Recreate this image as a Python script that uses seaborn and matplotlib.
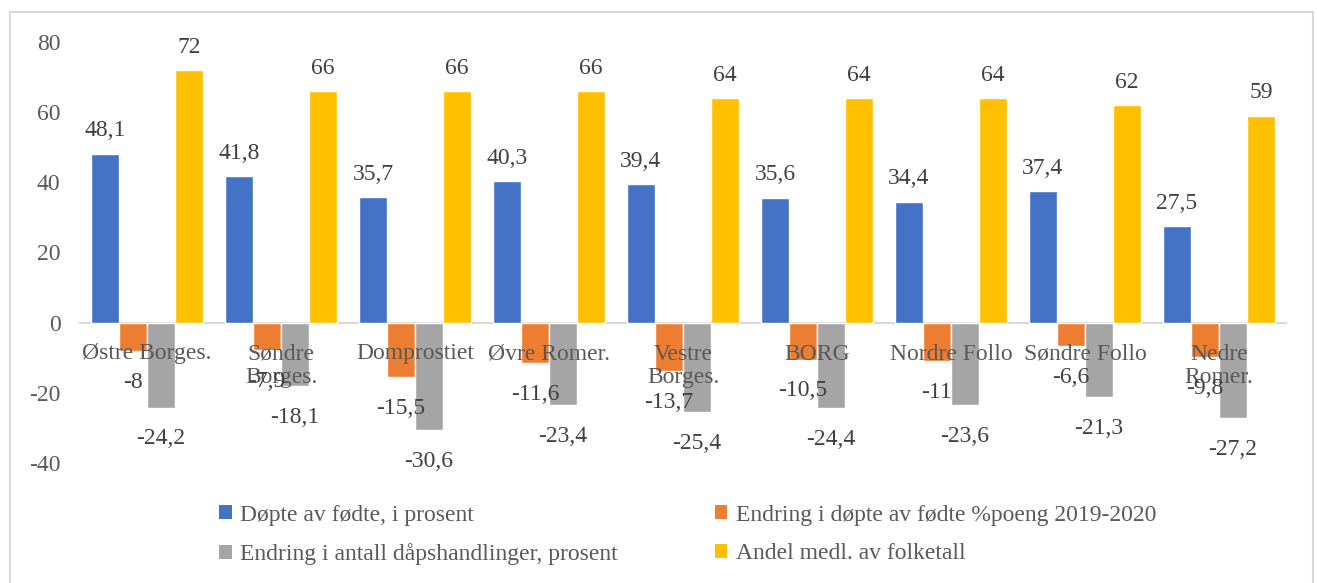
import matplotlib
matplotlib.use('Agg')
import matplotlib.pyplot as plt
from matplotlib.patches import Patch, Rectangle
import seaborn as sns
import pandas as pd

categories = ["Østre Borges.", "Søndre\nBorges.", "Domprostiet", "Øvre Romer.",
              "Vestre\nBorges.", "BORG", "Nordre Follo", "Søndre Follo", "Nedre\nRomer."]
dopte_av_fodte = [48.1, 41.8, 35.7, 40.3, 39.4, 35.6, 34.4, 37.4, 27.5]
endring_pp = [-8, -7.9, -15.5, -11.6, -13.7, -10.5, -11, -6.6, -9.8]
endring_antall = [-24.2, -18.1, -30.6, -23.4, -25.4, -24.4, -23.6, -21.3, -27.2]
andel_medl = [72, 66, 66, 66, 64, 64, 64, 62, 59]
series_names = ["Døpte av fødte, i prosent",
                "Endring i døpte av fødte %poeng 2019-2020",
                "Endring i antall dåpshandlinger, prosent",
                "Andel medl. av folketall"]
y_ticks = [-40, -20, 0, 20, 40, 60, 80]
colors = ['#4472C4', '#ED7D31', '#A5A5A5', '#FFC000']

rows = []
for name, vals in zip(series_names, [dopte_av_fodte, endring_pp, endring_antall, andel_medl]):
    for c, v in zip(categories, vals):
        rows.append({'kategori': c, 'verdi': v, 'serie': name})
df = pd.DataFrame(rows)

sns.set_theme(style='white')
plt.rcParams['font.family'] = ['Liberation Serif', 'DejaVu Serif']
FS = 17

fig = plt.figure(figsize=(13.17, 5.83), dpi=100)
ax = fig.add_axes([80/1317, 1-463/583, (1286-80)/1317, (463-42)/583])
sns.barplot(data=df, x='kategori', y='verdi', hue='serie', order=categories,
            hue_order=series_names, palette=colors, width=0.836, ax=ax,
            legend=False, saturation=1, errorbar=None)

ax.set_ylim(-40, 80)
ax.set_xlim(-0.5, len(categories) - 0.5)
ax.set_yticks(y_ticks)
ax.set_yticklabels([str(t) for t in y_ticks], fontsize=FS, color='#595959')
ax.set_xlabel('')
ax.set_ylabel('')
for s in ['left', 'right', 'top']:
    ax.spines[s].set_visible(False)
ax.spines['bottom'].set_position(('data', 0))
ax.spines['bottom'].set_color('#D9D9D9')
ax.spines['bottom'].set_linewidth(1.5)
ax.spines['bottom'].set_zorder(0.5)
ax.xaxis.set_zorder(2.5)
ax.tick_params(axis='x', length=0, pad=15, labelsize=FS, labelcolor='#595959')
ax.tick_params(axis='y', length=0, pad=14)
for lbl in ax.get_xticklabels():
    lbl.set_linespacing(1.15)

fmt = lambda v: f"{v:g}".replace('.', ',')
for i, cont in enumerate(ax.containers):
    pad = 9 if i in (0, 3) else 15
    texts = ax.bar_label(cont, labels=[fmt(b.get_height()) for b in cont], padding=pad,
                         fontsize=FS, color='#404040', clip_on=False)
    for t in texts:
        t.set_zorder(4)

handles = [Patch(facecolor=c, edgecolor='none') for c in colors]
order = [0, 2, 1, 3]
fig.legend([handles[k] for k in order], [series_names[k] for k in order],
           loc='center', bbox_to_anchor=(0.522, 1-535/583),
           ncol=2, frameon=False, fontsize=FS, handlelength=0.55, handleheight=0.55,
           handletextpad=0.35, columnspacing=4.1, labelspacing=0.75,
           labelcolor='#595959')

fig.patches.append(Rectangle((10/1317, -0.01), (1313-10)/1317, 1-12/583+0.01,
                             transform=fig.transFigure, fill=False,
                             edgecolor='#D9D9D9', linewidth=1.5))

fig.savefig('out.png', dpi=100)
